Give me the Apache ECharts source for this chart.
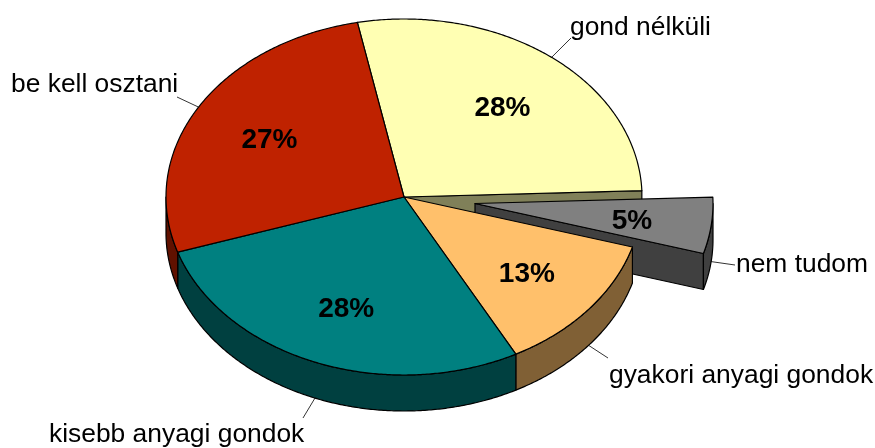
<!doctype html>
<html>
<head>
<meta charset="utf-8">
<title>kördiagram</title>
<style>
	html, body { margin: 0; padding: 0; background: #fff; }
	#main { width: 875px; height: 448px; }
</style>
<script src="https://cdn.jsdelivr.net/npm/echarts@6/dist/echarts.min.js"></script>
</head>
<body>
<div id="main"></div>
<script>
	// adatok
	var categories = ['gond nélküli', 'nem tudom', 'gyakori anyagi gondok', 'kisebb anyagi gondok', 'be kell osztani'];
	var values = [27.6, 5.1, 12.7, 27.8, 26.9];
	var exploded = [0, 1, 0, 0, 0];

	// szinek
	var topColors = ['#ffffb3', '#808080', '#ffc06b', '#008080', '#bf2200'];
	var sideColors = ['#808059', '#404040', '#806035', '#004040', '#601100'];

	// a kulso feliratok helye (szoveg bal szele, kozepe) es a vonal vege
	var labelPos = [[570, 28], [736, 265], [609, 376], [49, 435], [11, 85]];
	var leaderEnd = [[571, 38], [735, 265], [608, 358], [303, 418], [177, 97]];

	var cx = 404, cy = 197, rx = 238, ry = 178, depth = 36;
	var startAngle = -101.3;
	var explodeX = 71, explodeY = 6.5;
	var labelFactor = 0.66;
	var font = '"Liberation Sans", Arial, sans-serif';

	var total = values.reduce(function (a, b) { return a + b; }, 0);

	function pt(c, a, k, dy) {
		var r = a * Math.PI / 180;
		return [c[0] + rx * k * Math.cos(r), c[1] + ry * k * Math.sin(r) + (dy || 0)];
	}
	function arc(c, a0, a1, dy) {
		var pts = [], n = Math.max(2, Math.ceil(Math.abs(a1 - a0) * 2));
		for (var i = 0; i <= n; i++) pts.push(pt(c, a0 + (a1 - a0) * i / n, 1, dy));
		return pts;
	}
	function poly(points, fill, z2) {
		return {
			type: 'polygon', z2: z2, shape: { points: points },
			style: { fill: fill, stroke: '#000', lineWidth: 1.2, lineJoin: 'round' }
		};
	}

	function renderSlice(params) {
		var i = params.dataIndex;
		var a0 = startAngle;
		for (var j = 0; j < i; j++) a0 += values[j] / total * 360;
		var a1 = a0 + values[i] / total * 360, mid = (a0 + a1) / 2;
		var c = exploded[i] ? [cx + explodeX, cy + explodeY] : [cx, cy];
		var base = exploded[i] ? 2 : 5;
		var children = [];

		// a kihuzott szelet fala latszik, es az elotte levoe is
		if (exploded[i] || exploded[i + 1]) {
			var e0 = pt(c, a1, 1), e1 = pt(c, a1, 1, depth);
			children.push(poly([c, e0, e1, [c[0], c[1] + depth]], sideColors[i], exploded[i] ? 2 : 1));
		}

		// palast, csak az also feloldalon
		var s0 = Math.max(a0, 0), s1 = Math.min(a1, 180);
		if (s1 > s0) {
			children.push(poly(arc(c, s0, s1).concat(arc(c, s1, s0, depth)), sideColors[i], base + 1));
		}

		// teteje
		children.push(poly([c].concat(arc(c, a0, a1)), topColors[i], base + 2));

		// vonal a felirathoz
		var norm = (mid + 360) % 360;
		var start = pt(c, mid, 1, norm < 180 ? depth : 0);
		children.push({
			type: 'line', z2: 9,
			shape: { x1: start[0], y1: start[1], x2: leaderEnd[i][0], y2: leaderEnd[i][1] },
			style: { stroke: '#000', lineWidth: 0.8 }
		});

		// feliratok
		children.push({
			type: 'text', z2: 10,
			style: {
				x: labelPos[i][0], y: labelPos[i][1], text: categories[i],
				font: '26.4px ' + font, fill: '#000', align: 'left', verticalAlign: 'middle'
			}
		});
		var p = pt(c, mid, labelFactor);
		children.push({
			type: 'text', z2: 10,
			style: {
				x: p[0] + 1, y: p[1] + 3, text: Math.round(values[i]) + '%',
				font: 'bold 28px ' + font, fill: '#000', align: 'center', verticalAlign: 'middle'
			}
		});
		return { type: 'group', children: children };
	}

	var myChart = echarts.init(document.getElementById('main'), null, { renderer: 'canvas' });
	myChart.setOption({
		animation: false,
		backgroundColor: '#fff',
		series: [{
			type: 'custom',
			coordinateSystem: 'none',
			data: values,
			renderItem: renderSlice
		}]
	});
</script>
</body>
</html>
